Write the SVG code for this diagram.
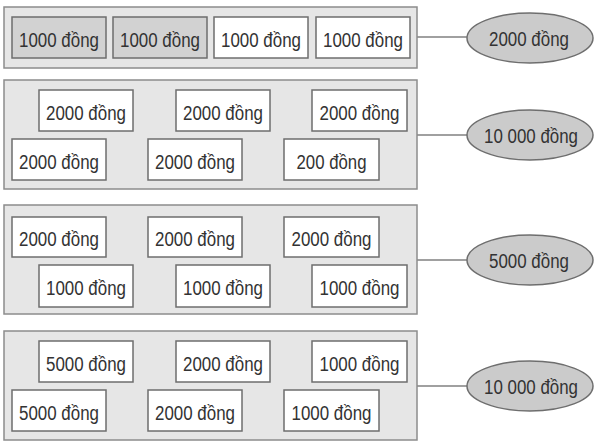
<svg xmlns="http://www.w3.org/2000/svg" width="600" height="447" viewBox="0 0 600 447">
<style>
.panel{fill:#e6e6e6;stroke:#8c8c8c;stroke-width:1.5}
.box{fill:#ffffff;stroke:#6e6e6e;stroke-width:1.5}
.box.g{fill:#d2d2d2}
.ell{fill:#cbcbcb;stroke:#6e6e6e;stroke-width:1.5}
.conn{stroke:#808080;stroke-width:1.5;fill:none}
text{font-family:"Liberation Sans",Arial,sans-serif;font-size:20px;fill:#333333;text-anchor:middle}
</style>
<rect width="600" height="447" fill="#ffffff"/>
<g id="connectors">
<line class="conn" x1="417" y1="37" x2="467" y2="37"/>
<line class="conn" x1="417" y1="135" x2="467" y2="135"/>
<line class="conn" x1="417" y1="260" x2="467" y2="260"/>
<line class="conn" x1="417" y1="386" x2="467" y2="386"/>
</g>
<g id="panel1">
<rect class="panel" x="4" y="7" width="413" height="61"/>
<g id="p1b1"><rect class="box g" x="12" y="17" width="94" height="41"/><text x="59" y="46.5" textLength="80" lengthAdjust="spacingAndGlyphs">1000 đồng</text></g>
<g id="p1b2"><rect class="box g" x="113" y="17" width="94" height="41"/><text x="160" y="46.5" textLength="80" lengthAdjust="spacingAndGlyphs">1000 đồng</text></g>
<g id="p1b3"><rect class="box" x="214" y="17" width="94" height="41"/><text x="261" y="46.5" textLength="80" lengthAdjust="spacingAndGlyphs">1000 đồng</text></g>
<g id="p1b4"><rect class="box" x="316" y="17" width="94" height="41"/><text x="363" y="46.5" textLength="80" lengthAdjust="spacingAndGlyphs">1000 đồng</text></g>
</g>
<g id="panel2">
<rect class="panel" x="4" y="80" width="413" height="109"/>
<g id="p2b1"><rect class="box" x="39" y="90" width="94" height="41"/><text x="86" y="119.5" textLength="80" lengthAdjust="spacingAndGlyphs">2000 đồng</text></g>
<g id="p2b2"><rect class="box" x="176" y="90" width="94" height="41"/><text x="223" y="119.5" textLength="80" lengthAdjust="spacingAndGlyphs">2000 đồng</text></g>
<g id="p2b3"><rect class="box" x="312" y="90" width="95" height="41"/><text x="359.5" y="119.5" textLength="80" lengthAdjust="spacingAndGlyphs">2000 đồng</text></g>
<g id="p2b4"><rect class="box" x="12" y="139" width="94" height="41"/><text x="59" y="168.5" textLength="80" lengthAdjust="spacingAndGlyphs">2000 đồng</text></g>
<g id="p2b5"><rect class="box" x="148" y="139" width="94" height="41"/><text x="195" y="168.5" textLength="80" lengthAdjust="spacingAndGlyphs">2000 đồng</text></g>
<g id="p2b6"><rect class="box" x="284" y="139" width="95" height="41"/><text x="331.5" y="168.5" textLength="70" lengthAdjust="spacingAndGlyphs">200 đồng</text></g>
</g>
<g id="panel3">
<rect class="panel" x="4" y="205" width="413" height="109"/>
<g id="p3b1"><rect class="box" x="12" y="217" width="94" height="40"/><text x="59" y="246" textLength="80" lengthAdjust="spacingAndGlyphs">2000 đồng</text></g>
<g id="p3b2"><rect class="box" x="148" y="217" width="94" height="40"/><text x="195" y="246" textLength="80" lengthAdjust="spacingAndGlyphs">2000 đồng</text></g>
<g id="p3b3"><rect class="box" x="284" y="217" width="95" height="40"/><text x="331.5" y="246" textLength="80" lengthAdjust="spacingAndGlyphs">2000 đồng</text></g>
<g id="p3b4"><rect class="box" x="39" y="265" width="94" height="42"/><text x="86" y="295" textLength="80" lengthAdjust="spacingAndGlyphs">1000 đồng</text></g>
<g id="p3b5"><rect class="box" x="176" y="265" width="94" height="42"/><text x="223" y="295" textLength="80" lengthAdjust="spacingAndGlyphs">1000 đồng</text></g>
<g id="p3b6"><rect class="box" x="312" y="265" width="95" height="42"/><text x="359.5" y="295" textLength="80" lengthAdjust="spacingAndGlyphs">1000 đồng</text></g>
</g>
<g id="panel4">
<rect class="panel" x="4" y="331" width="413" height="109"/>
<g id="p4b1"><rect class="box" x="39" y="341" width="94" height="41"/><text x="86" y="370.5" textLength="80" lengthAdjust="spacingAndGlyphs">5000 đồng</text></g>
<g id="p4b2"><rect class="box" x="176" y="341" width="94" height="41"/><text x="223" y="370.5" textLength="80" lengthAdjust="spacingAndGlyphs">2000 đồng</text></g>
<g id="p4b3"><rect class="box" x="312" y="341" width="95" height="41"/><text x="359.5" y="370.5" textLength="80" lengthAdjust="spacingAndGlyphs">1000 đồng</text></g>
<g id="p4b4"><rect class="box" x="12" y="390" width="94" height="41"/><text x="59" y="419.5" textLength="80" lengthAdjust="spacingAndGlyphs">5000 đồng</text></g>
<g id="p4b5"><rect class="box" x="148" y="390" width="94" height="41"/><text x="195" y="419.5" textLength="80" lengthAdjust="spacingAndGlyphs">2000 đồng</text></g>
<g id="p4b6"><rect class="box" x="284" y="390" width="95" height="41"/><text x="331.5" y="419.5" textLength="80" lengthAdjust="spacingAndGlyphs">1000 đồng</text></g>
</g>
<g id="ellipse1"><ellipse class="ell" cx="530" cy="38" rx="63" ry="25"/><text x="529" y="46" textLength="80" lengthAdjust="spacingAndGlyphs">2000 đồng</text></g>
<g id="ellipse2"><ellipse class="ell" cx="530" cy="135" rx="63" ry="25"/><text x="531" y="143" textLength="94" lengthAdjust="spacingAndGlyphs">10 000 đồng</text></g>
<g id="ellipse3"><ellipse class="ell" cx="530" cy="260" rx="63" ry="25"/><text x="529" y="268" textLength="80" lengthAdjust="spacingAndGlyphs">5000 đồng</text></g>
<g id="ellipse4"><ellipse class="ell" cx="530" cy="386" rx="63" ry="25"/><text x="531" y="394" textLength="94" lengthAdjust="spacingAndGlyphs">10 000 đồng</text></g>
</svg>
